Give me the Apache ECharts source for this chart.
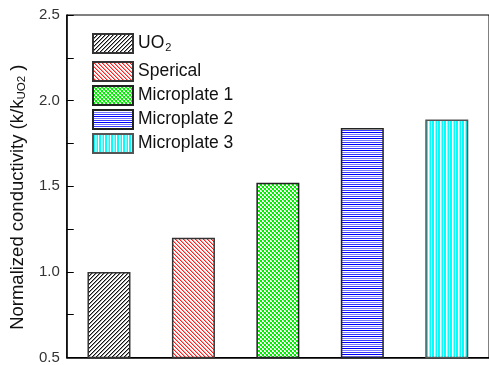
<!DOCTYPE html>
<html><head><meta charset="utf-8">
<script src="https://cdn.jsdelivr.net/npm/echarts@6/dist/echarts.min.js"></script>
<style>html,body{margin:0;padding:0;background:#fff}#c{width:489px;height:365px}</style>
</head><body><div id="c"></div>
<script>
var categories = ['UO2', 'Sperical', 'Microplate 1', 'Microplate 2', 'Microplate 3'];
var values = [1.00, 1.20, 1.52, 1.84, 1.89];
var yTicks = [0.5, 1.0, 1.5, 2.0, 2.5];

function tile(w, h, draw) {
  var c = document.createElement('canvas');
  c.width = w; c.height = h;
  var g = c.getContext('2d');
  g.fillStyle = '#fff'; g.fillRect(0, 0, w, h);
  draw(g);
  return { image: c, repeat: 'repeat' };
}
function diag(g, col, col2, dir) {
  for (var y = 0; y < 8; y++) {
    for (var x = 0; x < 8; x++) {
      var k = dir > 0 ? ((x + y) % 4) : ((x - y + 16) % 4);
      if (k === 0) { g.fillStyle = col; g.fillRect(x, y, 1, 1); }
      else if (k === 1) { g.fillStyle = col2; g.fillRect(x, y, 1, 1); }
    }
  }
}
function rows(g, cols) { cols.forEach(function (c, i) { g.fillStyle = c; g.fillRect(0, i, 1, 1); }); }
function colsFill(g, cols) { cols.forEach(function (c, i) { g.fillStyle = c; g.fillRect(i, 0, 1, 1); }); }
var patterns = [
  tile(8, 8, function (g) { diag(g, '#111', '#999', 1); }),
  tile(8, 8, function (g) { diag(g, '#ff2020', '#ffa0a0', -1); }),
  tile(4, 4, function (g) {
    g.fillStyle = '#00f000'; g.fillRect(0, 0, 2, 2); g.fillRect(2, 2, 2, 2);
    g.fillStyle = '#7dff7d'; g.fillRect(3, 0, 1, 1); g.fillRect(1, 2, 1, 1);
  }),
  tile(1, 6, function (g) { rows(g, ['#0000ff', '#ffffff', '#7878ff', '#ffffff', '#3838ff', '#ffffff']); }),
  tile(6, 1, function (g) { colsFill(g, ['#00ffff', '#00ffff', '#ffffff', '#80ffff', '#00ffff', '#ffffff']); })
];
var borders = ['#333', '#333', '#222', '#222', '#555'];

var series = categories.map(function (name, i) {
  var d = categories.map(function (_, j) { return j === i ? values[j] : '-'; });
  return {
    name: name, type: 'bar', data: d, barWidth: 43, barGap: '-100%',
    itemStyle: { color: patterns[i], borderColor: borders[i], borderWidth: 1.5 },
    emphasis: { disabled: true }
  };
});

var FONT = 'Liberation Sans, Arial';
var legendRich = {
  n: { fontSize: 17.5, fontFamily: FONT, color: '#111', lineHeight: 19, verticalAlign: 'top' },
  s: { fontSize: 11, fontFamily: FONT, color: '#111', lineHeight: 11, verticalAlign: 'bottom', padding: [0, 0, 0, 1] }
};
var nameRich = {
  n: { fontSize: 18.5, fontFamily: FONT, color: '#111', lineHeight: 20, verticalAlign: 'top' },
  s: { fontSize: 11.5, fontFamily: FONT, color: '#111', lineHeight: 11, verticalAlign: 'bottom' }
};
function legendFmt(name) {
  if (name === 'UO2') return '{n|UO}{s|2}';
  return '{n|' + name + '}';
}
var legendBase = {
  orient: 'vertical', left: 92, padding: 0, itemWidth: 40, itemHeight: 19, itemGap: 3,
  icon: 'rect', selectedMode: false, formatter: legendFmt,
  textStyle: { rich: legendRich }
};

var chart = echarts.init(document.getElementById('c'), null, { renderer: 'canvas' });
chart.setOption({
  animation: false,
  backgroundColor: '#fff',
  grid: { left: 64, top: 15, width: 430, height: 344, show: true, borderColor: '#000', borderWidth: 1, backgroundColor: 'transparent' },
  legend: [
    Object.assign({}, legendBase, { top: 33, data: ['UO2'] }),
    Object.assign({}, legendBase, { top: 61, data: categories.slice(1) })
  ],
  xAxis: {
    type: 'category', data: categories, boundaryGap: true,
    axisLine: { lineStyle: { color: '#000', width: 1.5 } },
    axisTick: { inside: true, length: 4, alignWithLabel: false, lineStyle: { color: '#000' } },
    axisLabel: { show: false }, splitLine: { show: false }
  },
  yAxis: {
    type: 'value', min: yTicks[0], max: yTicks[yTicks.length - 1], interval: 0.5,
    name: '{n|Normalized conductivity (k/k}{s|UO2}{n| )}',
    nameLocation: 'middle', nameRotate: 90, nameGap: 31,
    nameTextStyle: { rich: nameRich, padding: [0, 22, 0, 0] },
    axisLine: { show: true, lineStyle: { color: '#000', width: 1.5 } },
    axisTick: { show: true, inside: true, length: 7, lineStyle: { color: '#000' } },
    minorTick: { show: true, splitNumber: 2, length: 7, lineStyle: { color: '#000' } },
    axisLabel: { margin: 7, fontSize: 15, fontFamily: FONT, color: '#333',
      formatter: function (v) { return v.toFixed(1); } },
    splitLine: { show: false }
  },
  series: series
});
</script></body></html>
